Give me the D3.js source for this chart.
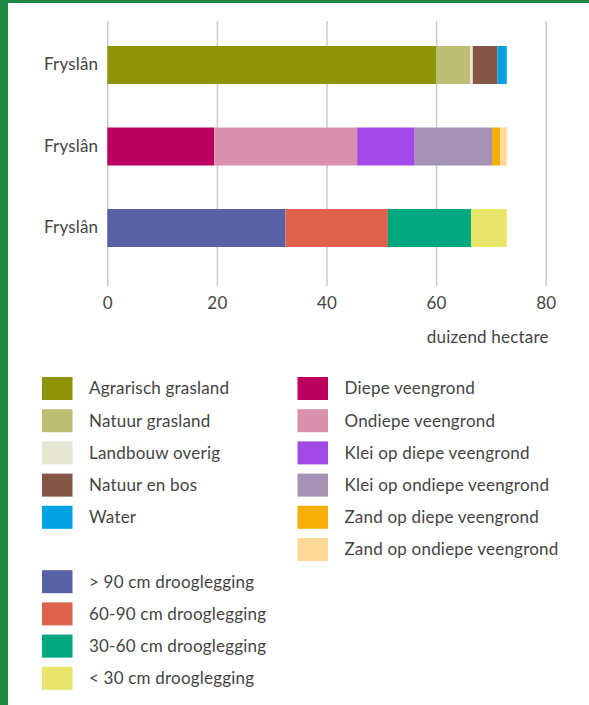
<!DOCTYPE html>
<html>
<head>
<meta charset="utf-8">
<script src="https://cdn.jsdelivr.net/npm/d3@7"></script>
<style>
    html, body { margin: 0; padding: 0; background: #fff; }
    #chart { width: 589px; height: 705px; }
    text { font-family: Lato, "Open Sans", sans-serif; font-weight: 400; fill: #444; letter-spacing: 0.2px; }
</style>
</head>
<body>
<div id="chart"></div>
<script>
// rows (all three bars are Fryslân, split by different classifications)
var rows = ["landgebruik", "bodem", "drooglegging"];
var rowLabels = ["Fryslân", "Fryslân", "Fryslân"];

var landgebruikNames = ["Agrarisch grasland", "Natuur grasland", "Landbouw overig", "Natuur en bos", "Water"];
var landgebruikValues = [60.0, 6.2, 0.5, 4.5, 1.7];

var bodemNames = ["Diepe veengrond", "Ondiepe veengrond", "Klei op diepe veengrond", "Klei op ondiepe veengrond", "Zand op diepe veengrond", "Zand op ondiepe veengrond"];
var bodemValues = [19.5, 26.1, 10.5, 14.1, 1.5, 1.2];

var droogleggingNames = ["> 90 cm drooglegging", "60-90 cm drooglegging", "30-60 cm drooglegging", "< 30 cm drooglegging"];
var droogleggingValues = [32.5, 18.7, 15.2, 6.5];

var xTicks = [0, 20, 40, 60, 80];
var xUnit = "duizend hectare";

var landgebruikColors = ["#8e9406", "#bcbe74", "#e5e7d2", "#855646", "#00a0e3"];
var bodemColors = ["#bb0060", "#d991ae", "#a24ae6", "#a592b5", "#f6ae05", "#fdd896"];
var droogleggingColors = ["#5961a5", "#dc624d", "#00a87f", "#e7e66a"];

var options = {
    width: 589,
    height: 705,
    marginLeft: 107.3,
    marginRight: 43.3,
    gridTop: 21,
    gridBottom: 286,
    barTop: 46,
    barBottom: 247,
    fontSize: 17,
    legendTop: 377,
    legendStep: 32.2,
    legendCols: [42, 297.5],
    swatchW: 30.5,
    swatchH: 23
};

var groups = [
    {"key": rows[0], "names": landgebruikNames, "values": landgebruikValues, "colors": landgebruikColors},
    {"key": rows[1], "names": bodemNames, "values": bodemValues, "colors": bodemColors},
    {"key": rows[2], "names": droogleggingNames, "values": droogleggingValues, "colors": droogleggingColors}
];

var svg = d3.select("#chart").append("svg")
    .attr("width", options.width).attr("height", options.height);

svg.append("rect").attr("width", options.width).attr("height", options.height).attr("fill", "#fff");

// frame: green rule on the left and top
svg.append("rect").attr("x", 0).attr("y", 0).attr("width", options.width).attr("height", 3).attr("fill", "#1e8a44");
svg.append("rect").attr("x", 0).attr("y", 0).attr("width", 8).attr("height", options.height).attr("fill", "#1e8a44");

var xScale = d3.scaleLinear().domain([0, 80]).range([options.marginLeft, options.width - options.marginRight]);
var yScale = d3.scaleBand().domain(rows).range([options.barTop, options.barBottom]).paddingInner(0.534).paddingOuter(0);

// gridlines + x tick labels
var xAxis = d3.axisBottom(xScale).tickValues(xTicks).tickFormat(d3.format("d"))
    .tickSize(-(options.gridBottom - options.gridTop)).tickPadding(11);
var xg = svg.append("g").attr("transform", "translate(0," + options.gridBottom + ")").call(xAxis);
xg.select(".domain").remove();
xg.selectAll("line").attr("stroke", "#cbcbcb").attr("stroke-width", 1.5);
xg.selectAll("text").attr("font-size", options.fontSize).attr("font-family", null).attr("fill", null);

svg.append("text")
    .attr("x", xScale(80) + 3).attr("y", 343)
    .attr("text-anchor", "end").attr("font-size", options.fontSize)
    .text(xUnit);

// bars
groups.forEach(function(g){
    var ends = Array.from(d3.cumsum(g.values));
    var segs = g.values.map(function(v, i){
        return {"name": g.names[i], "x0": ends[i] - v, "x1": ends[i], "color": g.colors[i]};
    });
    svg.append("g").selectAll("rect")
        .data(segs)
        .enter().append("rect")
        .attr("x", function(d){ return xScale(d.x0); })
        .attr("width", function(d){ return xScale(d.x1) - xScale(d.x0); })
        .attr("y", yScale(g.key))
        .attr("height", yScale.bandwidth())
        .attr("fill", function(d){ return d.color; });
});

// y labels
var yAxis = d3.axisLeft(yScale).tickSize(0).tickPadding(9)
    .tickFormat(function(d, i){ return rowLabels[i]; });
var yg = svg.append("g").attr("transform", "translate(" + options.marginLeft + ",0)").call(yAxis);
yg.select(".domain").remove();
yg.selectAll("text").attr("font-size", options.fontSize).attr("font-family", null).attr("fill", null);

// legend: col 1 = landgebruik then drooglegging (after a gap row), col 2 = bodem
var legendItems = [];
landgebruikNames.forEach(function(n, i){ legendItems.push({"name": n, "color": landgebruikColors[i], "col": 0, "row": i}); });
bodemNames.forEach(function(n, i){ legendItems.push({"name": n, "color": bodemColors[i], "col": 1, "row": i}); });
droogleggingNames.forEach(function(n, i){ legendItems.push({"name": n, "color": droogleggingColors[i], "col": 0, "row": i + 6}); });

var legend = svg.append("g").selectAll("g")
    .data(legendItems)
    .enter().append("g")
    .attr("transform", function(d){
        return "translate(" + options.legendCols[d.col] + "," + (options.legendTop + d.row * options.legendStep) + ")";
    });
legend.append("rect")
    .attr("width", options.swatchW).attr("height", options.swatchH)
    .attr("fill", function(d){ return d.color; });
legend.append("text")
    .attr("x", 47).attr("y", options.swatchH / 2).attr("dy", "0.35em")
    .attr("font-size", options.fontSize)
    .text(function(d){ return d.name; });
</script>
</body>
</html>
